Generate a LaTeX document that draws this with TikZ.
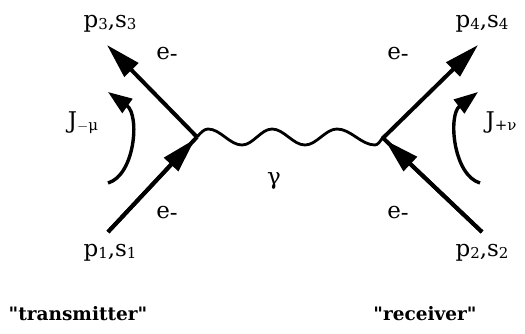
\documentclass[tikz,border=0pt]{standalone}
\usepackage{fontspec}
\setmainfont{DejaVu Serif}
\usetikzlibrary{arrows.meta}
\tikzset{
  fermion/.style={line width=4pt,-{Triangle[length=35pt,width=19pt]}},
  current/.style={line width=3.4pt,-{Triangle[length=24pt,width=17pt]}},
  photon/.style={line width=2.8pt,line join=round},
  lbl/.style={inner sep=0pt,font=\fontsize{23}{25}\selectfont},
  captext/.style={inner sep=0pt,font=\fontsize{18.5}{22}\selectfont\bfseries},
}
\newcommand{\sbs}[1]{\raisebox{-1.5pt}{\fontsize{15}{15}\selectfont #1}}
\begin{document}
\begin{tikzpicture}[x=1pt,y=-1pt]
\useasboundingbox (0,0) rectangle (525,333);
% vertices and ends
\coordinate (vL) at (197,137);
\coordinate (vR) at (383,138);
\coordinate (e3) at (107,45);
\coordinate (e1) at (108,232);
\coordinate (e4) at (478,45);
\coordinate (e2) at (482,232);
\coordinate (vLin) at (195,139);
\coordinate (vRin) at (385,140);
% fermion lines
\draw[fermion] (vL) -- (e3);
\draw[fermion] (e1) -- (vLin);
\draw[line width=4pt] (e1) -- (vL);
\draw[fermion] (vR) -- (e4);
\draw[fermion] (e2) -- (vRin);
\draw[line width=4pt] (e2) -- (vR);
% photon
\draw[photon] (vL)
  sin ++(11,-8) cos ++(17,8) sin ++(17,8)
  cos ++(15,-8) sin ++(15,-8) cos ++(16.5,8) sin ++(16.5,8)
  cos ++(16,-8) sin ++(16,-8) cos ++(19,8) sin ++(19,8)
  cos ++(8,-8) -- (vR);
% currents
\coordinate (jLs) at (108,183);
\coordinate (jLe) at (108,92);
\coordinate (jRs) at (480,183);
\coordinate (jRe) at (478,92);
\draw[current] (jLs) .. controls (135,175) and (140,115) .. (jLe);
\draw[current] (jRs) .. controls (453,175) and (448,115) .. (jRe);
% labels
\node[lbl] (l3) at (110,24) {p\sbs{3},s\sbs{3}};
\node[lbl] (l1) at (110,253) {p\sbs{1},s\sbs{1}};
\node[lbl] (l4) at (482,24) {p\sbs{4},s\sbs{4}};
\node[lbl] (l2) at (482,253) {p\sbs{2},s\sbs{2}};
\node[lbl] (eL3) at (167,54) {e\raisebox{-2pt}{-}};
\node[lbl] (eL1) at (167,213) {e\raisebox{-2pt}{-}};
\node[lbl] (eR4) at (398,54) {e\raisebox{-2pt}{-}};
\node[lbl] (eR2) at (398,213) {e\raisebox{-2pt}{-}};
\node[lbl] (jL) at (83,123) {J\sbs{$-$μ}};
\node[lbl] (jR) at (501,123) {J\sbs{+ν}};
\node[lbl] (g) at (274,181) {γ};
\node[captext] (tx) at (78,314) {\textquotedbl transmitter\textquotedbl};
\node[captext] (rx) at (425,314) {\textquotedbl receiver\textquotedbl};
\end{tikzpicture}
\end{document}
